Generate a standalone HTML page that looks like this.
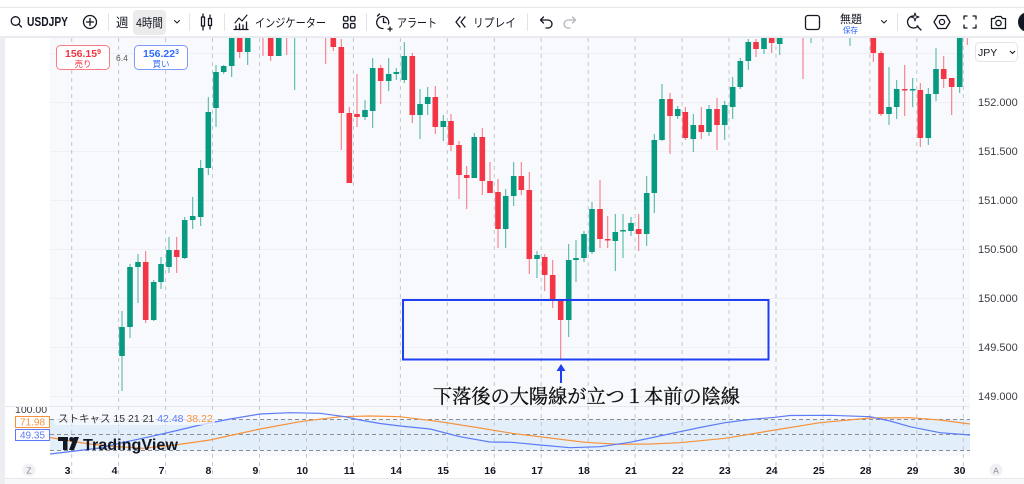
<!DOCTYPE html>
<html><head><meta charset="utf-8"><style>
html,body{margin:0;padding:0;background:#fff;}
body{width:1024px;height:484px;overflow:hidden;position:relative;font-family:"Liberation Sans","Noto Sans CJK JP",sans-serif;}
svg{position:absolute;left:0;top:0;}
</style></head><body>
<svg width="1024" height="484" viewBox="0 0 1024 484" xmlns="http://www.w3.org/2000/svg" font-family="Liberation Sans, Noto Sans CJK JP, sans-serif">
<defs>
<clipPath id="cm"><rect x="50" y="38" width="920" height="368"/></clipPath>
<clipPath id="co"><rect x="50" y="407" width="920" height="49"/></clipPath>
<clipPath id="cl"><rect x="0" y="407" width="60" height="49"/></clipPath>
</defs>
<rect x="0" y="0" width="1024" height="484" fill="#ffffff"/>
<line x1="0" y1="7.5" x2="1024" y2="7.5" stroke="#e6e8ee" stroke-width="1"/>
<rect x="0" y="36" width="1024" height="2.5" fill="#e9ebf0"/>
<rect x="0" y="36" width="5" height="448" fill="#eceef2"/>
<rect x="5" y="38" width="1019" height="440" fill="#ffffff"/>
<rect x="50" y="38" width="920" height="368" fill="#f8f9fd"/>
<rect x="50" y="407" width="920" height="49" fill="#f8f9fd"/>
<line x1="5" y1="406.5" x2="1024" y2="406.5" stroke="#e6e8ee"/>
<line x1="5" y1="478.5" x2="1024" y2="478.5" stroke="#e6e8ee"/>
<rect x="5" y="479" width="1019" height="5" fill="#f7f8fa"/>

<g stroke="#eef0f5" stroke-width="1">
<line x1="50" y1="53.5" x2="970" y2="53.5"/>
<line x1="50" y1="102.5" x2="970" y2="102.5"/>
<line x1="50" y1="151.5" x2="970" y2="151.5"/>
<line x1="50" y1="200.5" x2="970" y2="200.5"/>
<line x1="50" y1="249.5" x2="970" y2="249.5"/>
<line x1="50" y1="298.5" x2="970" y2="298.5"/>
<line x1="50" y1="347.5" x2="970" y2="347.5"/>
<line x1="50" y1="396.5" x2="970" y2="396.5"/>
</g>
<rect x="50" y="419.3" width="920" height="31" fill="#e3eefb"/>
<g stroke="#8a8d96" stroke-width="1" stroke-dasharray="4 3">
<line x1="50" y1="419.5" x2="970" y2="419.5"/>
<line x1="50" y1="434.5" x2="970" y2="434.5"/>
<line x1="50" y1="450.5" x2="970" y2="450.5"/>
</g>
<g stroke="#c3c6cf" stroke-width="1" stroke-dasharray="4 4">
<line x1="71.7" y1="38" x2="71.7" y2="478"/>
<line x1="118.6" y1="38" x2="118.6" y2="478"/>
<line x1="165.6" y1="38" x2="165.6" y2="478"/>
<line x1="212.5" y1="38" x2="212.5" y2="478"/>
<line x1="259.5" y1="38" x2="259.5" y2="478"/>
<line x1="306.5" y1="38" x2="306.5" y2="478"/>
<line x1="353.4" y1="38" x2="353.4" y2="478"/>
<line x1="400.4" y1="38" x2="400.4" y2="478"/>
<line x1="447.3" y1="38" x2="447.3" y2="478"/>
<line x1="494.3" y1="38" x2="494.3" y2="478"/>
<line x1="541.2" y1="38" x2="541.2" y2="478"/>
<line x1="588.2" y1="38" x2="588.2" y2="478"/>
<line x1="635.1" y1="38" x2="635.1" y2="478"/>
<line x1="682.1" y1="38" x2="682.1" y2="478"/>
<line x1="729" y1="38" x2="729" y2="478"/>
<line x1="776" y1="38" x2="776" y2="478"/>
<line x1="822.9" y1="38" x2="822.9" y2="478"/>
<line x1="869.9" y1="38" x2="869.9" y2="478"/>
<line x1="916.8" y1="38" x2="916.8" y2="478"/>
<line x1="963.3" y1="38" x2="963.3" y2="478"/>
</g>

<g clip-path="url(#cm)">
<g stroke="#089981" stroke-width="1" stroke-opacity="0.75">
<line x1="122" y1="311" x2="122" y2="391"/><line x1="130" y1="264" x2="130" y2="338"/><line x1="138" y1="254" x2="138" y2="303"/><line x1="153.7" y1="280" x2="153.7" y2="321"/><line x1="161" y1="257" x2="161" y2="289"/><line x1="169" y1="237" x2="169" y2="273"/><line x1="184.7" y1="217" x2="184.7" y2="259"/><line x1="192.7" y1="197" x2="192.7" y2="229"/><line x1="200.7" y1="160" x2="200.7" y2="226"/><line x1="208.3" y1="97" x2="208.3" y2="175"/><line x1="216" y1="65" x2="216" y2="127"/><line x1="223.7" y1="65" x2="223.7" y2="74"/><line x1="231.7" y1="25" x2="231.7" y2="77"/><line x1="247.7" y1="25" x2="247.7" y2="65"/><line x1="278.7" y1="25" x2="278.7" y2="56"/><line x1="294.7" y1="20" x2="294.7" y2="90"/><line x1="365" y1="100" x2="365" y2="120"/><line x1="372.7" y1="58" x2="372.7" y2="128"/><line x1="388.7" y1="58" x2="388.7" y2="91"/><line x1="396.3" y1="68" x2="396.3" y2="80"/><line x1="404.3" y1="42" x2="404.3" y2="83"/><line x1="420" y1="89" x2="420" y2="139"/><line x1="427.7" y1="87" x2="427.7" y2="115"/><line x1="443.3" y1="115" x2="443.3" y2="141"/><line x1="474.3" y1="133" x2="474.3" y2="178"/><line x1="505.7" y1="189" x2="505.7" y2="248"/><line x1="513.7" y1="162" x2="513.7" y2="206"/><line x1="537" y1="251" x2="537" y2="278"/><line x1="568.7" y1="244" x2="568.7" y2="337"/><line x1="576" y1="240" x2="576" y2="282"/><line x1="584" y1="231" x2="584" y2="262"/><line x1="592" y1="202" x2="592" y2="254"/><line x1="615.3" y1="214" x2="615.3" y2="271"/><line x1="623" y1="214" x2="623" y2="258"/><line x1="631" y1="217" x2="631" y2="236"/><line x1="646.7" y1="176" x2="646.7" y2="246"/><line x1="654.3" y1="134" x2="654.3" y2="213"/><line x1="662" y1="84" x2="662" y2="141"/><line x1="677.7" y1="106" x2="677.7" y2="119"/><line x1="693.3" y1="114" x2="693.3" y2="152"/><line x1="709" y1="105" x2="709" y2="136"/><line x1="724.7" y1="101" x2="724.7" y2="140"/><line x1="732.7" y1="77" x2="732.7" y2="119"/><line x1="740.3" y1="58" x2="740.3" y2="89"/><line x1="748.3" y1="39" x2="748.3" y2="70"/><line x1="764" y1="25" x2="764" y2="54"/><line x1="779.7" y1="25" x2="779.7" y2="55"/><line x1="811" y1="20" x2="811" y2="43"/><line x1="850" y1="20" x2="850" y2="46"/><line x1="889" y1="67" x2="889" y2="125"/><line x1="896.7" y1="80" x2="896.7" y2="119"/><line x1="912.7" y1="78" x2="912.7" y2="107"/><line x1="928.3" y1="88" x2="928.3" y2="145"/><line x1="936" y1="48" x2="936" y2="101"/><line x1="959.7" y1="25" x2="959.7" y2="93"/>
</g>
<g stroke="#f23645" stroke-width="1" stroke-opacity="0.7">
<line x1="145.7" y1="251" x2="145.7" y2="323"/><line x1="176.7" y1="237" x2="176.7" y2="273"/><line x1="239.7" y1="25" x2="239.7" y2="58"/><line x1="263" y1="20" x2="263" y2="56"/><line x1="270.7" y1="25" x2="270.7" y2="61"/><line x1="286.7" y1="20" x2="286.7" y2="55"/><line x1="325.7" y1="20" x2="325.7" y2="64"/><line x1="333.3" y1="25" x2="333.3" y2="51"/><line x1="341.3" y1="39" x2="341.3" y2="150"/><line x1="349.3" y1="107" x2="349.3" y2="183"/><line x1="357" y1="74" x2="357" y2="127"/><line x1="380.7" y1="65" x2="380.7" y2="104"/><line x1="412.3" y1="53" x2="412.3" y2="123"/><line x1="435.3" y1="86" x2="435.3" y2="134"/><line x1="451" y1="114" x2="451" y2="151"/><line x1="459" y1="141" x2="459" y2="199"/><line x1="466.7" y1="166" x2="466.7" y2="209"/><line x1="482.3" y1="128" x2="482.3" y2="195"/><line x1="490" y1="162" x2="490" y2="193"/><line x1="498" y1="179" x2="498" y2="248"/><line x1="521.3" y1="162" x2="521.3" y2="195"/><line x1="529.3" y1="172" x2="529.3" y2="274"/><line x1="544.7" y1="254" x2="544.7" y2="291"/><line x1="552.7" y1="260" x2="552.7" y2="308"/><line x1="560.7" y1="301" x2="560.7" y2="359"/><line x1="600" y1="180" x2="600" y2="248"/><line x1="607.7" y1="216" x2="607.7" y2="248"/><line x1="638.7" y1="214" x2="638.7" y2="251"/><line x1="670" y1="93" x2="670" y2="154"/><line x1="685.3" y1="107" x2="685.3" y2="140"/><line x1="701.3" y1="107" x2="701.3" y2="139"/><line x1="717" y1="98" x2="717" y2="150"/><line x1="756" y1="39" x2="756" y2="57"/><line x1="771.7" y1="25" x2="771.7" y2="53"/><line x1="803" y1="20" x2="803" y2="79"/><line x1="873.3" y1="25" x2="873.3" y2="62"/><line x1="881" y1="51" x2="881" y2="116"/><line x1="904.7" y1="65" x2="904.7" y2="116"/><line x1="920.3" y1="83" x2="920.3" y2="147"/><line x1="943.7" y1="56" x2="943.7" y2="88"/><line x1="951.7" y1="78" x2="951.7" y2="115"/><line x1="967.3" y1="20" x2="967.3" y2="45"/>
</g>
<g fill="#089981">
<rect x="119.2" y="327" width="5.6" height="29"/><rect x="127.2" y="267" width="5.6" height="60"/><rect x="135.2" y="262" width="5.6" height="5"/><rect x="150.9" y="282" width="5.6" height="38"/><rect x="158.2" y="264" width="5.6" height="18"/><rect x="166.2" y="250" width="5.6" height="17"/><rect x="181.9" y="220" width="5.6" height="38"/><rect x="189.9" y="216" width="5.6" height="4"/><rect x="197.9" y="168" width="5.6" height="49"/><rect x="205.5" y="112" width="5.6" height="56"/><rect x="213.2" y="72" width="5.6" height="36"/><rect x="220.9" y="66" width="5.6" height="6"/><rect x="228.9" y="30" width="5.6" height="36"/><rect x="244.9" y="30" width="5.6" height="22"/><rect x="275.9" y="30" width="5.6" height="26"/><rect x="291.9" y="20" width="5.6" height="10"/><rect x="362.2" y="110" width="5.6" height="7"/><rect x="369.9" y="68" width="5.6" height="43"/><rect x="385.9" y="74" width="5.6" height="7"/><rect x="393.5" y="72" width="5.6" height="2"/><rect x="401.5" y="56" width="5.6" height="24"/><rect x="417.2" y="104" width="5.6" height="11"/><rect x="424.9" y="97" width="5.6" height="7"/><rect x="440.5" y="121" width="5.6" height="6"/><rect x="471.5" y="137" width="5.6" height="41"/><rect x="502.9" y="196" width="5.6" height="33"/><rect x="510.9" y="176" width="5.6" height="20"/><rect x="534.2" y="255" width="5.6" height="4"/><rect x="565.9" y="260" width="5.6" height="60"/><rect x="573.2" y="258" width="5.6" height="2"/><rect x="581.2" y="234" width="5.6" height="24"/><rect x="589.2" y="209" width="5.6" height="43"/><rect x="612.5" y="232" width="5.6" height="9"/><rect x="620.2" y="230" width="5.6" height="1.5"/><rect x="628.2" y="223" width="5.6" height="8"/><rect x="643.9" y="193" width="5.6" height="41"/><rect x="651.5" y="140" width="5.6" height="53"/><rect x="659.2" y="99" width="5.6" height="41"/><rect x="674.9" y="109" width="5.6" height="7"/><rect x="690.5" y="125" width="5.6" height="14"/><rect x="706.2" y="109" width="5.6" height="23"/><rect x="721.9" y="105" width="5.6" height="20"/><rect x="729.9" y="87" width="5.6" height="20"/><rect x="737.5" y="61" width="5.6" height="26"/><rect x="745.5" y="42" width="5.6" height="19"/><rect x="761.2" y="30" width="5.6" height="19"/><rect x="776.9" y="30" width="5.6" height="14"/><rect x="808.2" y="20" width="5.6" height="10"/><rect x="847.2" y="20" width="5.6" height="10"/><rect x="886.2" y="107" width="5.6" height="7"/><rect x="893.9" y="89" width="5.6" height="18"/><rect x="909.9" y="89" width="5.6" height="1.5"/><rect x="925.5" y="94" width="5.6" height="44"/><rect x="933.2" y="69" width="5.6" height="25"/><rect x="956.9" y="30" width="5.6" height="57"/>
</g>
<g fill="#f23645">
<rect x="142.9" y="262" width="5.6" height="58"/><rect x="173.9" y="250" width="5.6" height="7"/><rect x="236.9" y="30" width="5.6" height="22"/><rect x="260.2" y="20" width="5.6" height="10"/><rect x="267.9" y="30" width="5.6" height="26"/><rect x="283.9" y="20" width="5.6" height="10"/><rect x="322.9" y="20" width="5.6" height="10"/><rect x="330.5" y="30" width="5.6" height="17"/><rect x="338.5" y="47" width="5.6" height="66"/><rect x="346.5" y="113" width="5.6" height="70"/><rect x="354.2" y="114" width="5.6" height="3"/><rect x="377.9" y="68" width="5.6" height="13"/><rect x="409.5" y="56" width="5.6" height="59"/><rect x="432.5" y="97" width="5.6" height="30"/><rect x="448.2" y="121" width="5.6" height="24"/><rect x="456.2" y="145" width="5.6" height="30"/><rect x="463.9" y="175" width="5.6" height="3"/><rect x="479.5" y="137" width="5.6" height="44"/><rect x="487.2" y="181" width="5.6" height="12"/><rect x="495.2" y="192" width="5.6" height="37"/><rect x="518.5" y="176" width="5.6" height="14"/><rect x="526.5" y="190" width="5.6" height="69"/><rect x="541.9" y="257" width="5.6" height="18"/><rect x="549.9" y="275" width="5.6" height="26"/><rect x="557.9" y="301" width="5.6" height="19"/><rect x="597.2" y="209" width="5.6" height="30"/><rect x="604.9" y="239" width="5.6" height="1.5"/><rect x="635.9" y="229" width="5.6" height="5"/><rect x="667.2" y="99" width="5.6" height="17"/><rect x="682.5" y="112" width="5.6" height="26"/><rect x="698.5" y="125" width="5.6" height="7"/><rect x="714.2" y="109" width="5.6" height="16"/><rect x="753.2" y="42" width="5.6" height="7"/><rect x="768.9" y="30" width="5.6" height="13"/><rect x="800.2" y="20" width="5.6" height="10"/><rect x="870.5" y="30" width="5.6" height="23"/><rect x="878.2" y="53" width="5.6" height="61"/><rect x="901.9" y="89" width="5.6" height="1.5"/><rect x="917.5" y="90" width="5.6" height="48"/><rect x="940.9" y="69" width="5.6" height="10"/><rect x="948.9" y="78" width="5.6" height="9"/><rect x="964.5" y="20" width="5.6" height="10"/>
</g>
</g>

<rect x="403" y="300" width="365.5" height="59.5" fill="none" stroke="#1f3ff2" stroke-width="2"/>
<line x1="561" y1="369" x2="561" y2="383" stroke="#1f3ff2" stroke-width="2"/>
<polygon points="561,364 565.5,371 556.5,371" fill="#1f3ff2"/>
<text x="433" y="403" textLength="307" lengthAdjust="spacingAndGlyphs" font-family="Liberation Serif, Noto Serif CJK SC, serif" font-size="19.5" fill="#111" stroke="#111" stroke-width="0.35">下落後の大陽線が立つ１本前の陰線</text>

<rect x="56.5" y="45.5" width="53" height="24" rx="4" fill="#fff" stroke="#f77c86" stroke-width="1"/>
<text x="83" y="57" font-size="10.5" font-weight="bold" fill="#f23645" text-anchor="middle">156.15<tspan font-size="7" dy="-3">9</tspan></text>
<text x="83" y="67" font-size="8.5" fill="#f23645" text-anchor="middle">売り</text>
<text x="116" y="61" font-size="8.5" fill="#555">6.4</text>
<rect x="134.5" y="45.5" width="53" height="24" rx="4" fill="#fff" stroke="#7d9bfa" stroke-width="1"/>
<text x="161" y="57" font-size="10.5" font-weight="bold" fill="#2f6bff" text-anchor="middle">156.22<tspan font-size="7" dy="-3">3</tspan></text>
<text x="161" y="67" font-size="8.5" fill="#2f6bff" text-anchor="middle">買い</text>

<rect x="970" y="38" width="54" height="440" fill="#fff"/>
<rect x="975.5" y="42.5" width="42" height="19" rx="4" fill="#fff" stroke="#e3e5ea"/>
<text x="978" y="56" font-size="10.5" fill="#131722">JPY</text>
<polyline points="1010,51 1012.5,53.5 1015,51" fill="none" stroke="#131722" stroke-width="1"/>
<g font-size="11" fill="#3a3d45">
<text x="978" y="106">152.000</text>
<text x="978" y="155">151.500</text>
<text x="978" y="204">151.000</text>
<text x="978" y="253">150.500</text>
<text x="978" y="302">150.000</text>
<text x="978" y="351">149.500</text>
<text x="978" y="400">149.000</text>
</g>

<g clip-path="url(#co)">
<polyline fill="none" stroke="#f7923a" stroke-width="1.2" points="50,437.5 70,441 90,444 115,446.5 143,448.3 175,445 210,440 235,434.5 260,429 300,421.7 340,416.7 370,416 400,416.7 440,421.7 480,428 512,433.3 550,438 585,442.3 620,444.3 650,444 680,442.7 725,438.3 775,430 820,422.7 870,418 910,417.7 940,420 970,424"/>
<polyline fill="none" stroke="#5b7cf6" stroke-width="1.2" points="50,454 75,451 100,448 125,442 150,436.7 175,431 200,425 230,419 260,414 290,412.7 320,413.3 345,416.7 360,420 380,423.5 400,426 430,429 460,436.7 490,442 512,442.3 540,445 570,447.7 600,446.7 630,442.3 655,437 680,431.7 700,427.5 725,422.7 750,419.5 775,417.3 790,415.5 830,415.3 870,416.7 890,421 910,426.7 940,432.7 970,435"/>
</g>
<rect x="55" y="411" width="160" height="14" fill="#f8f9fd" fill-opacity="0.7"/>
<text x="58" y="422" font-size="10.5" fill="#333"><tspan>ストキャス 15 21 21 </tspan><tspan fill="#5b7cf6">42.48</tspan><tspan fill="#f7923a"> 38.22</tspan></text>
<g fill="#131722">
<rect x="58" y="437" width="10" height="4"/>
<rect x="63" y="437" width="4.5" height="13"/>
<circle cx="71.5" cy="439.3" r="2.3"/>
<polygon points="74,437 79,437 74,450 69,450"/>
</g>
<text x="83" y="450" font-size="15.5" font-weight="bold" fill="#131722" textLength="95" lengthAdjust="spacingAndGlyphs">TradingView</text>
<g clip-path="url(#cl)"><text x="15" y="413" font-size="10.5" fill="#3a3d45">100.00</text></g>
<rect x="15.5" y="416.5" width="34" height="11" fill="#fff" stroke="#f7923a"/>
<text x="32.5" y="425.5" font-size="10" fill="#f7923a" text-anchor="middle">71.98</text>
<rect x="15.5" y="429.5" width="34" height="11" fill="#fff" stroke="#5b7cf6"/>
<text x="32.5" y="438.5" font-size="10" fill="#5b7cf6" text-anchor="middle">49.35</text>

<g font-size="10.5" font-weight="bold" fill="#131722" text-anchor="middle">
<text x="67.6" y="474">3</text><text x="114.5" y="474">4</text><text x="161.5" y="474">7</text><text x="208.4" y="474">8</text><text x="255.4" y="474">9</text><text x="302.3" y="474">10</text><text x="349.3" y="474">11</text><text x="396.2" y="474">14</text><text x="443.2" y="474">15</text><text x="490.1" y="474">16</text><text x="537.1" y="474">17</text><text x="584" y="474">18</text><text x="631" y="474">21</text><text x="677.9" y="474">22</text><text x="724.9" y="474">23</text><text x="771.8" y="474">24</text><text x="818.8" y="474">25</text><text x="865.7" y="474">28</text><text x="912.7" y="474">29</text><text x="959.6" y="474">30</text>
</g>
<circle cx="29" cy="470" r="6.5" fill="#f0f1f4"/>
<text x="29" y="473.5" font-size="8.5" fill="#888" text-anchor="middle">Z</text>
<circle cx="996" cy="470" r="6.5" fill="#f0f1f4"/>
<text x="996" y="473.5" font-size="8.5" fill="#888" text-anchor="middle">A</text>

<g fill="none" stroke="#131722" stroke-width="1.3" stroke-linecap="round" stroke-linejoin="round">
<circle cx="15.5" cy="21" r="4.3"/><line x1="18.7" y1="24.2" x2="21.5" y2="27"/>
<circle cx="90" cy="22" r="6.5"/><line x1="90" y1="18.5" x2="90" y2="25.5"/><line x1="86.5" y1="22" x2="93.5" y2="22"/>
<polyline points="174.5,20.5 177,23 179.5,20.5" stroke-width="1"/>
<rect x="201.5" y="17" width="3" height="9"/><line x1="203" y1="14" x2="203" y2="17"/><line x1="203" y1="26" x2="203" y2="30"/>
<rect x="208.5" y="18.5" width="3" height="7"/><line x1="210" y1="15" x2="210" y2="18.5"/><line x1="210" y1="25.5" x2="210" y2="29"/>
<polyline points="235,23 239,18 242,21 247,15" stroke-width="1.1"/>
<line x1="236" y1="29" x2="236" y2="26"/><line x1="239.5" y1="29" x2="239.5" y2="24"/><line x1="243" y1="29" x2="243" y2="25"/><line x1="246.5" y1="29" x2="246.5" y2="22"/><line x1="234" y1="29.5" x2="248" y2="29.5"/>
<rect x="343.5" y="16.5" width="4.5" height="4.5" rx="1.2"/><rect x="350.5" y="16.5" width="4.5" height="4.5" rx="1.2"/><rect x="343.5" y="23.5" width="4.5" height="4.5" rx="1.2"/><rect x="350.5" y="23.5" width="4.5" height="4.5" rx="1.2"/>
<path d="M388.5,24 A6,6 0 1 0 383,28.5"/><polyline points="383.5,18.5 383.5,22.5 386,22.5"/><line x1="377.5" y1="16" x2="379.5" y2="14"/><line x1="388" y1="29" x2="392" y2="29"/><line x1="390" y1="27" x2="390" y2="31"/>
<polyline points="460,17 456,22 460,27"/><polyline points="465,17 461,22 465,27"/>
<path d="M541,20 h7 a4,4 0 0 1 0,8 h-2"/><polyline points="543.5,17 540.5,20 543.5,23"/>
<g stroke="#b2b5be"><path d="M575,20 h-7 a4,4 0 0 0 0,8 h2"/><polyline points="572.5,17 575.5,20 572.5,23"/></g>
<rect x="805.5" y="15.5" width="14" height="14" rx="2.5"/>
<polyline points="881.5,20.5 884,23 886.5,20.5" stroke-width="1"/>
<path d="M914,16 a6,6 0 1 0 4,10"/><line x1="917" y1="26" x2="921" y2="30"/><path d="M915,13 l1,3 l3,1 l-3,1 l-1,3 l-1,-3 l-3,-1 l3,-1z" stroke-width="1"/>
<polygon points="938,15.5 946,15.5 950,22 946,28.5 938,28.5 934,22"/><circle cx="942" cy="22" r="2.6"/>
<polyline points="964,19 964,16 967,16"/><polyline points="973,16 976,16 976,19"/><polyline points="976,25 976,28 973,28"/><polyline points="967,28 964,28 964,25"/>
<path d="M991.5,18.5 h3 l1.5,-2 h5 l1.5,2 h3 v10 h-14z"/><circle cx="998.5" cy="23" r="2.7"/>
</g>
<circle cx="1028" cy="22" r="10" fill="#131722"/>
<g stroke="#e0e3eb" stroke-width="1">
<line x1="108.5" y1="13" x2="108.5" y2="31"/><line x1="189.5" y1="13" x2="189.5" y2="31"/><line x1="224.5" y1="13" x2="224.5" y2="31"/><line x1="366.5" y1="13" x2="366.5" y2="31"/><line x1="527.5" y1="13" x2="527.5" y2="31"/><line x1="897.5" y1="13" x2="897.5" y2="31"/>
</g>
<text x="27" y="26" font-size="12.5" font-weight="bold" fill="#131722" textLength="41" lengthAdjust="spacingAndGlyphs">USDJPY</text>
<text x="116" y="27" font-size="12.5" fill="#131722">週</text>
<rect x="133" y="10" width="33" height="25" rx="4" fill="#ebebeb"/>
<text x="136" y="27" font-size="12" fill="#131722" textLength="27" lengthAdjust="spacingAndGlyphs">4時間</text>
<text x="255" y="27" font-size="12" fill="#131722" textLength="71" lengthAdjust="spacingAndGlyphs">インジケーター</text>
<text x="397" y="27" font-size="12" fill="#131722" textLength="40" lengthAdjust="spacingAndGlyphs">アラート</text>
<text x="473" y="27" font-size="12" fill="#131722" textLength="43" lengthAdjust="spacingAndGlyphs">リプレイ</text>
<text x="840" y="23" font-size="11.5" fill="#131722" textLength="22" lengthAdjust="spacingAndGlyphs">無題</text>
<text x="843" y="33" font-size="8" fill="#2962ff" textLength="15" lengthAdjust="spacingAndGlyphs">保存</text>
</svg>
</body></html>
